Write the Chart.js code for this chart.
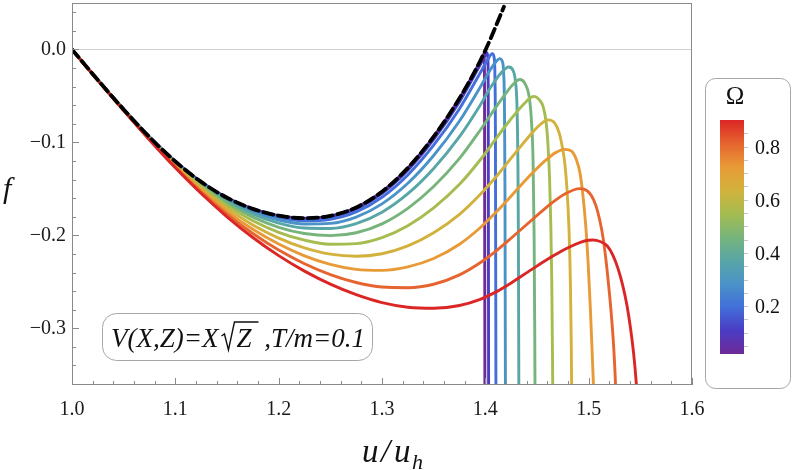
<!DOCTYPE html>
<html>
<head>
<meta charset="utf-8">
<script src="https://cdn.jsdelivr.net/npm/chart.js@4.4.0/dist/chart.umd.min.js"></script>
<style>
  body { margin: 0; background: #fff; }
  canvas { display: block; }
</style>
</head>
<body>
<canvas id="freeEnergyChart" width="793" height="470"></canvas>
<script>
// x grid shared by every curve up to u/u_h = 1.395
const gridX = [1.0, 1.025, 1.05, 1.075, 1.1, 1.125, 1.15, 1.175, 1.2, 1.225, 1.25, 1.275, 1.3, 1.325, 1.35, 1.375, 1.395];

// dashed black curve
const dashedY = [0, -0.0328, -0.0645, -0.0943, -0.1205, -0.1425, -0.1595, -0.1715, -0.1788, -0.1815, -0.179, -0.17, -0.153, -0.1275, -0.0938, -0.0525, -0.0125];
const dashedTailX = [1.405, 1.418];
const dashedTailY = [0.0115, 0.046];

// coloured curves, low Omega (purple) to high Omega (red)
const omegaValues = [0.02, 0.108, 0.196, 0.284, 0.372, 0.46, 0.548, 0.636, 0.724, 0.812, 0.9];
const curveColors = ['#6f2a96', '#4b3cc4', '#426fd9', '#4a93c8', '#58a6a6', '#77b47b', '#a5bc50', '#d2b23c', '#e89a37', '#e6642f', '#db2626'];

const fanY = [
    [0, -0.0328, -0.0645, -0.0943, -0.1205, -0.1425, -0.1595, -0.1715, -0.1788, -0.1815, -0.179, -0.17, -0.153, -0.1275, -0.0938, -0.0525, -0.0125],
    [0, -0.0328, -0.0645, -0.0943, -0.1206, -0.1427, -0.1598, -0.172, -0.1795, -0.1824, -0.1802, -0.1715, -0.1549, -0.1299, -0.0968, -0.0561, -0.0166],
    [0, -0.0328, -0.0646, -0.0945, -0.1208, -0.1431, -0.1605, -0.173, -0.181, -0.1844, -0.1827, -0.1747, -0.159, -0.135, -0.103, -0.0637, -0.0253],
    [0, -0.0329, -0.0646, -0.0946, -0.1213, -0.1439, -0.1618, -0.1749, -0.1835, -0.1878, -0.1871, -0.1803, -0.1661, -0.144, -0.1141, -0.077, -0.0407],
    [0, -0.0329, -0.0647, -0.0949, -0.1218, -0.1448, -0.1633, -0.1772, -0.1868, -0.1921, -0.1926, -0.1874, -0.1751, -0.1552, -0.128, -0.0938, -0.0599],
    [0, -0.033, -0.0649, -0.0952, -0.1225, -0.1461, -0.1655, -0.1804, -0.1913, -0.198, -0.2003, -0.1972, -0.1876, -0.1709, -0.1474, -0.1172, -0.0869],
    [0, -0.033, -0.065, -0.0956, -0.1233, -0.1477, -0.168, -0.1843, -0.1967, -0.2052, -0.2095, -0.2089, -0.2025, -0.1897, -0.1705, -0.1451, -0.1189],
    [0, -0.0331, -0.0652, -0.096, -0.1243, -0.1495, -0.171, -0.1888, -0.2029, -0.2134, -0.2202, -0.2225, -0.2198, -0.2114, -0.1972, -0.1774, -0.1561],
    [0, -0.0332, -0.0654, -0.0964, -0.1253, -0.1514, -0.1741, -0.1934, -0.2093, -0.222, -0.2312, -0.2366, -0.2377, -0.2339, -0.2249, -0.2095, -0.1918],
    [0, -0.0332, -0.0656, -0.0969, -0.1264, -0.1533, -0.1771, -0.198, -0.2158, -0.2305, -0.2422, -0.2507, -0.2556, -0.2563, -0.2526, -0.2425, -0.2295],
    [0, -0.0333, -0.0658, -0.0973, -0.1273, -0.155, -0.18, -0.2023, -0.2218, -0.2385, -0.2525, -0.2638, -0.2723, -0.2773, -0.2785, -0.2755, -0.2689]
];

// rise to the peak and the steep drop after it
const tailX = [
    [1.3975, 1.3986, 1.3992, 1.3996],
    [1.399, 1.4015, 1.4024, 1.4028, 1.4032],
    [1.402, 1.4068, 1.4085, 1.4093, 1.4098, 1.4103],
    [1.405, 1.41, 1.4139, 1.4163, 1.4177, 1.4185, 1.419, 1.4195],
    [1.405, 1.415, 1.4226, 1.4268, 1.4292, 1.4306, 1.4315, 1.432, 1.4325],
    [1.41, 1.42, 1.427, 1.4332, 1.4385, 1.4429, 1.4448, 1.4462, 1.4472, 1.4478, 1.4482],
    [1.41, 1.4204, 1.4295, 1.4375, 1.443, 1.4468, 1.4525, 1.456, 1.4588, 1.4607, 1.4622, 1.4634, 1.4643, 1.465, 1.4655],
    [1.41, 1.4268, 1.4462, 1.4545, 1.4607, 1.467, 1.4715, 1.4745, 1.4769, 1.479, 1.481, 1.4823, 1.4832, 1.4838],
    [1.41, 1.4268, 1.445, 1.4591, 1.468, 1.4769, 1.4835, 1.4882, 1.4916, 1.4946, 1.4972, 1.4995, 1.5017, 1.5037, 1.5046, 1.5055],
    [1.41, 1.4268, 1.445, 1.4591, 1.4769, 1.4914, 1.4985, 1.5027, 1.507, 1.5107, 1.514, 1.517, 1.5197, 1.522, 1.5242, 1.526, 1.527],
    [1.41, 1.425, 1.445, 1.465, 1.48, 1.492, 1.5, 1.504, 1.511, 1.518, 1.5235, 1.5285, 1.533, 1.537, 1.5405, 1.5435, 1.5458, 1.5472, 1.548]
];
const tailY = [
    [-0.0068, -0.0048, -0.03, -0.4],
    [-0.008, -0.0035, -0.008, -0.05, -0.4],
    [-0.0115, -0.0045, -0.0085, -0.03, -0.1, -0.4],
    [-0.0215, -0.0135, -0.0098, -0.0125, -0.025, -0.06, -0.15, -0.4],
    [-0.041, -0.0255, -0.0188, -0.0225, -0.035, -0.06, -0.12, -0.2, -0.4],
    [-0.0625, -0.047, -0.0375, -0.0323, -0.037, -0.0545, -0.08, -0.12, -0.2, -0.3, -0.4],
    [-0.0965, -0.081, -0.0685, -0.0585, -0.0525, -0.0505, -0.0545, -0.0617, -0.078, -0.104, -0.14, -0.19, -0.25, -0.33, -0.4],
    [-0.1375, -0.1145, -0.0885, -0.0795, -0.0758, -0.079, -0.09, -0.105, -0.1226, -0.15, -0.1943, -0.25, -0.32, -0.4],
    [-0.1755, -0.1555, -0.1335, -0.1185, -0.111, -0.1075, -0.1095, -0.119, -0.133, -0.1585, -0.19, -0.23, -0.28, -0.335, -0.361, -0.4],
    [-0.2172, -0.2012, -0.1835, -0.1698, -0.1555, -0.1497, -0.152, -0.1575, -0.168, -0.1835, -0.203, -0.229, -0.258, -0.286, -0.32, -0.361, -0.4],
    [-0.2611, -0.2512, -0.2366, -0.2226, -0.2133, -0.2075, -0.2053, -0.205, -0.2066, -0.2115, -0.2215, -0.236, -0.254, -0.275, -0.3, -0.327, -0.355, -0.38, -0.4]
];

// axes and colour bar
const xTicks = [1.0, 1.1, 1.2, 1.3, 1.4, 1.5, 1.6];
const yTicks = [0, -0.1, -0.2, -0.3];
const colorbarTicks = [0.2, 0.4, 0.6, 0.8];
const colorbarRange = [0.02, 0.9];
const annotationText = ['V(X,Z)=X', 'Z', ' ,T/m=0.1'];

const SERIF = '"Liberation Serif", "Times New Roman", serif';

const toPoints = (xs, ys) => xs.map((v, i) => ({ x: v, y: ys[i] }));

function roundRect(ctx, x, y, w, h, r) {
    ctx.beginPath();
    ctx.moveTo(x + r, y);
    ctx.lineTo(x + w - r, y);
    ctx.arcTo(x + w, y, x + w, y + r, r);
    ctx.lineTo(x + w, y + h - r);
    ctx.arcTo(x + w, y + h, x + w - r, y + h, r);
    ctx.lineTo(x + r, y + h);
    ctx.arcTo(x, y + h, x, y + h - r, r);
    ctx.lineTo(x, y + r);
    ctx.arcTo(x, y, x + r, y, r);
    ctx.closePath();
}

const datasets = [{
    label: 'dashed',
    data: toPoints(gridX.concat(dashedTailX), dashedY.concat(dashedTailY)),
    borderColor: '#000',
    borderWidth: 3.8,
    borderDash: [10, 5],
    order: 0
}];
curveColors.forEach((col, k) => {
    datasets.push({
        label: 'Ω = ' + omegaValues[k],
        data: toPoints(gridX.concat(tailX[k]), fanY[k].concat(tailY[k])),
        borderColor: col,
        borderWidth: 2.9,
        order: 11 - k
    });
});

const decor = {
    id: 'decor',
    afterDraw(chart) {
        const { ctx, chartArea: a, scales: { x, y } } = chart;
        ctx.save();

        // frame
        ctx.strokeStyle = '#8a8a8a';
        ctx.lineWidth = 1;
        ctx.strokeRect(a.left + 0.5, a.top + 0.5, a.right - a.left - 1, a.bottom - a.top - 1);

        // inward ticks, minor every 0.02
        ctx.beginPath();
        for (let i = 0; i <= 30; i++) {
            const px = Math.round(x.getPixelForValue(1 + i * 0.02)) + 0.5;
            const len = i % 5 === 0 ? 7 : 4;
            ctx.moveTo(px, a.bottom);
            ctx.lineTo(px, a.bottom - len);
        }
        for (let i = -18; i <= 2; i++) {
            const py = Math.round(y.getPixelForValue(i * 0.02)) + 0.5;
            const len = i % 5 === 0 ? 7 : 4;
            ctx.moveTo(a.left, py);
            ctx.lineTo(a.left + len, py);
        }
        ctx.stroke();

        // axis titles
        ctx.fillStyle = '#111';
        ctx.textBaseline = 'alphabetic';
        ctx.textAlign = 'left';
        ctx.font = 'italic 30px ' + SERIF;
        ctx.fillText('f', 3, 198);
        ctx.font = 'italic 33px ' + SERIF;
        ctx.fillText('u', 362, 462);
        ctx.fillText('/', 381, 462);
        ctx.fillText('u', 394, 462);
        ctx.font = 'italic 22px ' + SERIF;
        ctx.fillText('h', 412, 469);

        // annotation box
        roundRect(ctx, 102.5, 313.5, 270, 47, 14);
        ctx.fillStyle = '#fff';
        ctx.fill();
        ctx.strokeStyle = '#a6a6a6';
        ctx.stroke();
        ctx.fillStyle = '#111';
        ctx.font = 'italic 27px ' + SERIF;
        const base = 347;
        let tx = 111;
        ctx.fillText(annotationText[0], tx, base);
        tx += ctx.measureText(annotationText[0]).width + 3;
        const zw = ctx.measureText(annotationText[1]).width;
        ctx.beginPath();
        ctx.lineWidth = 1.4;
        ctx.strokeStyle = '#111';
        ctx.moveTo(tx, base - 11);
        ctx.lineTo(tx + 3, base - 13);
        ctx.lineTo(tx + 7, base + 3);
        ctx.lineTo(tx + 13, base - 25);
        ctx.lineTo(tx + 16 + zw + 6, base - 25);
        ctx.stroke();
        ctx.fillText(annotationText[1], tx + 15, base);
        tx += 16 + zw + 5;
        ctx.fillText(annotationText[2], tx, base);

        // colour bar legend
        roundRect(ctx, 705.5, 78.5, 85, 310, 10);
        ctx.fillStyle = '#fff';
        ctx.fill();
        ctx.strokeStyle = '#a6a6a6';
        ctx.lineWidth = 1;
        ctx.stroke();

        const barL = 720, barR = 744, barTop = 120, barBot = 354;
        const vToY = v => barBot - (v - colorbarRange[0]) / (colorbarRange[1] - colorbarRange[0]) * (barBot - barTop);
        const grad = ctx.createLinearGradient(0, barBot, 0, barTop);
        curveColors.forEach((c, k) => grad.addColorStop(k / (curveColors.length - 1), c));
        ctx.fillStyle = grad;
        ctx.fillRect(barL, barTop, barR - barL, barBot - barTop);

        ctx.beginPath();
        ctx.strokeStyle = '#c4c4c4';
        for (let i = 1; i <= 17; i++) {
            const py = Math.round(vToY(i * 0.05)) + 0.5;
            ctx.moveTo(barR, py);
            ctx.lineTo(barR + 4, py);
        }
        ctx.stroke();

        ctx.fillStyle = '#111';
        ctx.font = '20px ' + SERIF;
        ctx.textBaseline = 'middle';
        colorbarTicks.forEach(v => ctx.fillText(v.toFixed(1), 755, vToY(v) + 2));

        ctx.font = '25px ' + SERIF;
        ctx.textAlign = 'center';
        ctx.fillText('Ω', 735, 97);

        ctx.restore();
    }
};

new Chart(document.getElementById('freeEnergyChart'), {
    type: 'line',
    data: { datasets },
    options: {
        responsive: false,
        animation: false,
        devicePixelRatio: 1,
        layout: { padding: { top: 3, right: 101, bottom: 0, left: 0 } },
        elements: {
            point: { radius: 0 },
            line: { cubicInterpolationMode: 'monotone', borderCapStyle: 'round' }
        },
        datasets: { line: { clip: 0 } },
        plugins: { legend: { display: false }, tooltip: { enabled: false } },
        scales: {
            x: {
                type: 'linear',
                min: 1.0,
                max: 1.6,
                grid: { display: false, drawTicks: false },
                border: { display: false },
                afterBuildTicks: s => { s.ticks = xTicks.map(v => ({ value: v })); },
                afterFit: s => { s.height = 85; s.paddingLeft = 0; s.paddingRight = 0; },
                ticks: {
                    autoSkip: false,
                    maxRotation: 0,
                    padding: 13,
                    color: '#1a1a1a',
                    font: { family: SERIF, size: 20 },
                    callback: v => Number(v).toFixed(1)
                }
            },
            y: {
                type: 'linear',
                min: -0.361,
                max: 0.05,
                grid: {
                    drawTicks: false,
                    lineWidth: 1,
                    color: c => (c.tick && Math.abs(c.tick.value) < 1e-9) ? '#d0d0d0' : 'rgba(0,0,0,0)'
                },
                border: { display: false },
                afterBuildTicks: s => { s.ticks = yTicks.map(v => ({ value: v })); },
                afterFit: s => { s.width = 72; s.paddingTop = 0; s.paddingBottom = 0; },
                ticks: {
                    padding: 6,
                    color: '#1a1a1a',
                    font: { family: SERIF, size: 20 },
                    callback: v => (v < 0 ? '\u2212' : '') + Math.abs(v).toFixed(1)
                }
            }
        }
    },
    plugins: [decor]
});
</script>
</body>
</html>
